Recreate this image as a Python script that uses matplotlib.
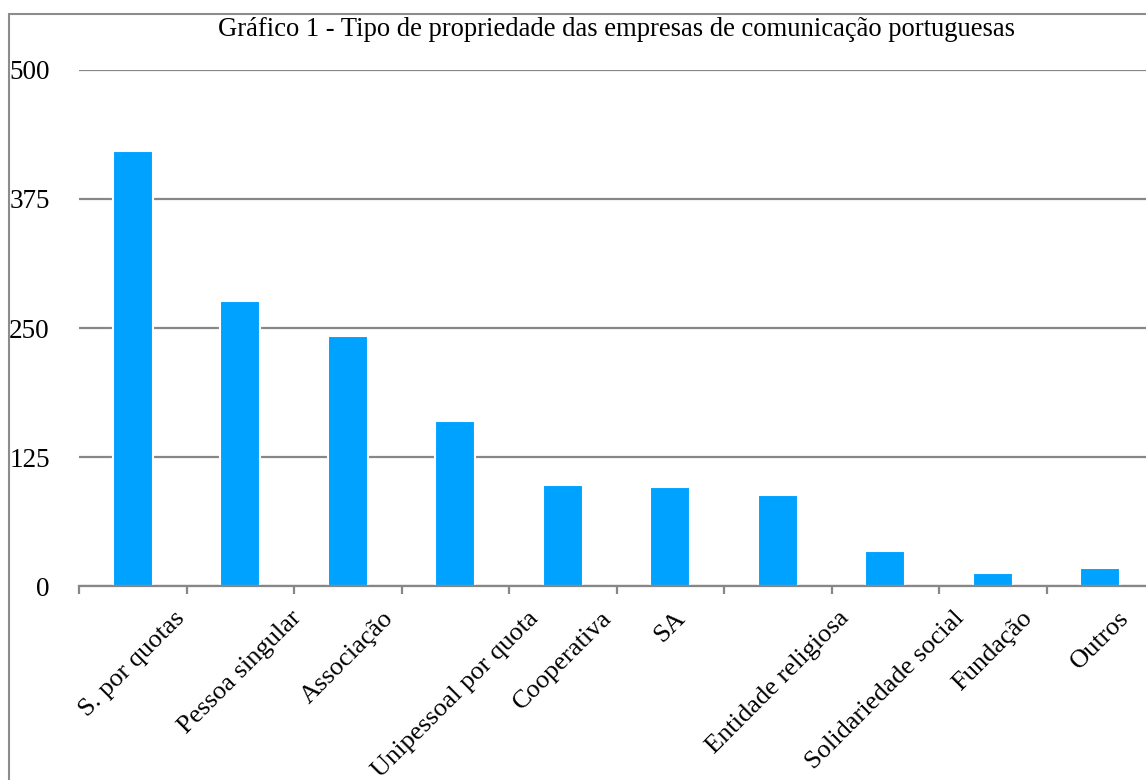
import matplotlib
matplotlib.use('Agg')
import matplotlib.pyplot as plt
import numpy as np
from matplotlib.patches import Rectangle

# data
categories = ['S. por quotas', 'Pessoa singular', 'Associação', 'Unipessoal por quota',
              'Cooperativa', 'SA', 'Entidade religiosa', 'Solidariedade social',
              'Fundação', 'Outros']
counts = [421, 276, 242, 160, 98, 96, 88, 34, 13, 18]
yticks = [0, 125, 250, 375, 500]

title = 'Gráfico 1 - Tipo de propriedade das empresas de comunicação portuguesas'

plt.rcParams['font.family'] = ['Liberation Serif', 'DejaVu Serif']

W, H = 1146, 780
fig = plt.figure(figsize=(W / 100, H / 100), dpi=100)
fig.patch.set_facecolor('white')

# outer chart frame (cropped on the right and bottom)
fig.add_artist(Rectangle((9 / W, -0.1), 1.2, (780 - 14) / H + 0.1,
                         transform=fig.transFigure, fill=False,
                         edgecolor='#8c8c8c', linewidth=1.5))

left, right = 79 / W, 1154 / W
bottom, top = (H - 586.3) / H, (H - 69.7) / H
ax = fig.add_axes([left, bottom, right - left, top - bottom])

grey = '#878787'
x = np.arange(len(categories))
ax.bar(x, counts, width=0.37, color='#00a2ff', edgecolor='white',
       linewidth=1.5, zorder=3)

ax.set_xlim(-0.5, len(categories) - 0.5)
ax.set_ylim(0, 500)
ax.set_yticks(yticks)
ax.set_yticklabels([str(v) for v in yticks], fontsize=19.5)
ax.tick_params(axis='y', length=0, pad=21)
ax.yaxis.grid(True, color=grey, linewidth=1.6, zorder=1)
ax.set_axisbelow(True)

ax.set_xticks(x)
ax.set_xticklabels(categories, rotation=45, ha='center', va='top', fontsize=19)
ax.tick_params(axis='x', which='major', length=0, pad=15)
ax.set_xticks(np.arange(len(categories) + 1) - 0.5, minor=True)
ax.tick_params(axis='x', which='minor', length=6, width=1.6, color=grey)

for side in ['left', 'right', 'top']:
    ax.spines[side].set_visible(False)
ax.spines['bottom'].set_color(grey)
ax.spines['bottom'].set_linewidth(1.6)
ax.spines['bottom'].set_zorder(4)

fig.text((79 + 1154) / 2 / W, (H - 29) / H, title, ha='center', va='center',
         fontsize=19.2)

fig.savefig('out.png', dpi=100)
